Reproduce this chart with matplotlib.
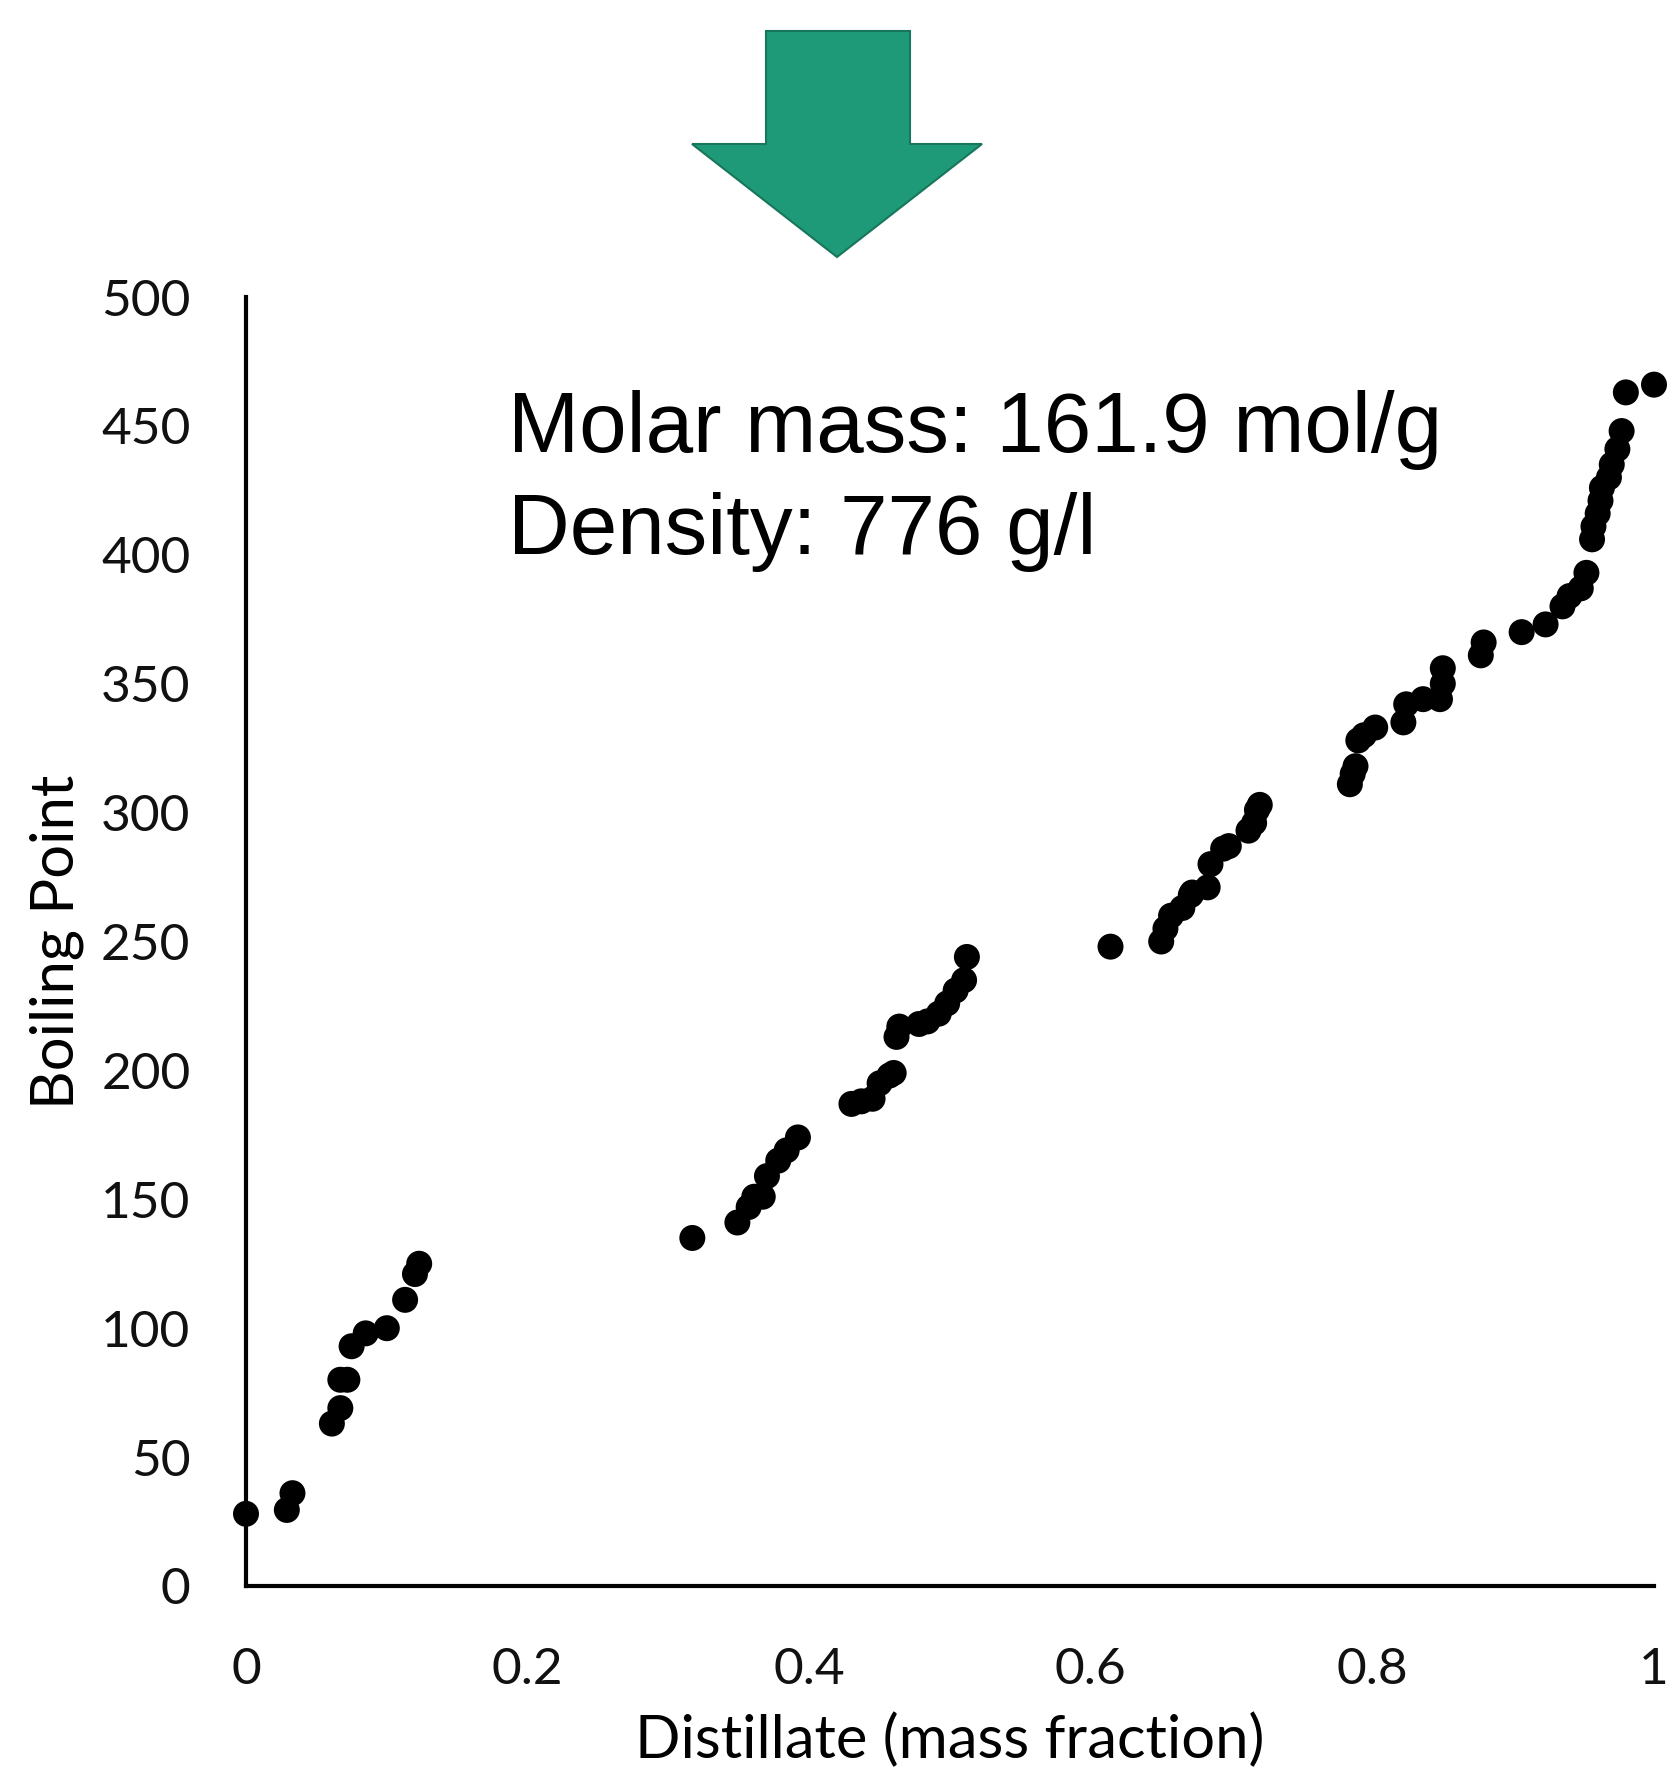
import matplotlib
matplotlib.use("Agg")
import matplotlib.pyplot as plt
from matplotlib.patches import Polygon

distillate = [0.0, 0.029, 0.033, 0.061, 0.067, 0.067, 0.072, 0.075, 0.085, 0.10, 0.113, 0.12, 0.123,
              0.317, 0.349, 0.357, 0.361, 0.367, 0.37, 0.378, 0.384, 0.392,
              0.43, 0.437, 0.445, 0.45, 0.457, 0.46, 0.462, 0.464, 0.478, 0.484, 0.492, 0.498, 0.504, 0.51, 0.512,
              0.614, 0.65, 0.653, 0.657, 0.665, 0.671, 0.672, 0.683, 0.685, 0.694, 0.698, 0.712, 0.716, 0.718, 0.72,
              0.784, 0.786, 0.788, 0.79, 0.794, 0.802, 0.822, 0.824, 0.836, 0.848, 0.85, 0.85, 0.877, 0.879,
              0.906, 0.923, 0.935, 0.94, 0.948, 0.952, 0.956, 0.957, 0.96, 0.962, 0.963, 0.968, 0.97, 0.974,
              0.977, 0.98, 1.0]
boiling = [28, 29.5, 36, 63, 69, 80, 80, 93, 98, 100, 111, 121, 125,
           135, 141, 147, 151, 151, 159, 165, 169, 174,
           187, 188, 189, 195, 198, 199, 213, 217, 218, 219, 222, 226, 231, 235, 244,
           248, 250, 255, 260, 263, 268, 269, 271, 280, 286, 287, 293, 296, 301, 303,
           311, 315, 318, 328, 330, 333, 335, 342, 344, 344, 350, 356, 361, 366,
           370, 373, 380, 384, 387, 393, 406, 411, 416, 421, 426, 430, 435, 441,
           448, 463, 466]
xticks = [0, 0.2, 0.4, 0.6, 0.8, 1]
xticklabels = ["0", "0.2", "0.4", "0.6", "0.8", "1"]
yticks = [0, 50, 100, 150, 200, 250, 300, 350, 400, 450, 500]
annotation = "Molar mass: 161.9 mol/g\nDensity: 776 g/l"

W, H = 1673, 1778
fig = plt.figure(figsize=(W / 100, H / 100), dpi=100)
ax = fig.add_axes([246 / W, 1 - 1586 / H, (1654 - 246) / W, (1586 - 297) / H])

ax.scatter(distillate, boiling, s=350, color="black", edgecolors="none", clip_on=False, zorder=3)
ax.set_xlim(0, 1)
ax.set_ylim(0, 500)
ax.set_xticks(xticks)
ax.set_xticklabels(xticklabels)
ax.set_yticks(yticks)
for s in ["top", "right"]:
    ax.spines[s].set_visible(False)
for s in ["left", "bottom"]:
    ax.spines[s].set_linewidth(3)
    ax.spines[s].set_color("black")
ax.tick_params(length=0, labelsize=37, colors="#111111")
ax.tick_params(axis="y", pad=40)
ax.tick_params(axis="x", pad=44)
for lab in ax.get_xticklabels() + ax.get_yticklabels():
    lab.set_family("Lato")
ax.set_ylabel("Boiling Point", fontsize=43, family="Lato", labelpad=12)
ax.set_xlabel("Distillate (mass fraction)", fontsize=43, family="Lato", labelpad=14)

fig.text(508 / W, 1 - 390 / H, annotation, fontsize=61.5, family="Liberation Sans",
         va="top", ha="left", linespacing=1.36)

# green arrow
pts = [(766, 31), (910, 31), (910, 144), (982, 144), (837, 257), (692, 144), (766, 144)]
arrow = Polygon([(x / W, 1 - y / H) for x, y in pts], closed=True, transform=fig.transFigure,
                facecolor="#1f9a78", edgecolor="#17765c", linewidth=1.5)
fig.patches.append(arrow)

fig.savefig("out.png", dpi=100)
